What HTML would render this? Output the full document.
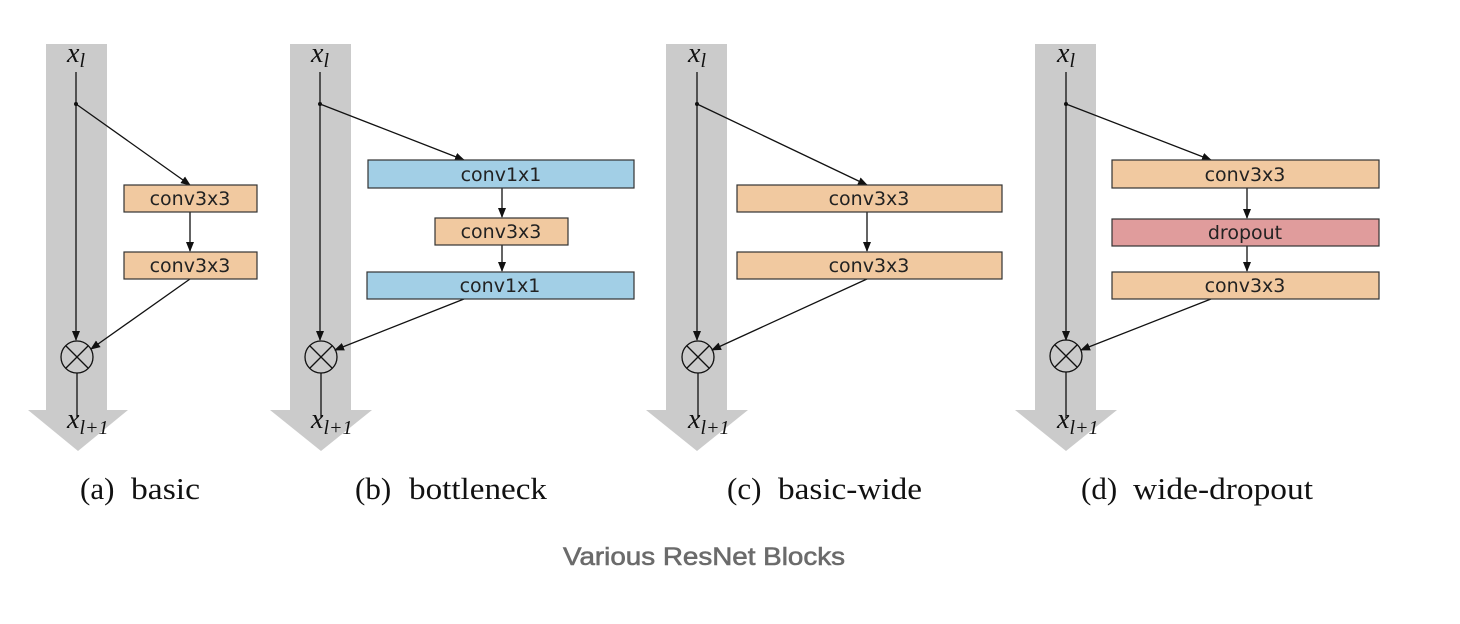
<!DOCTYPE html>
<html><head><meta charset="utf-8"><style>
html,body{margin:0;padding:0;background:#fff;}
svg{display:block;}
.bx{font-family:"DejaVu Sans","Liberation Sans",sans-serif;font-size:19px;fill:#222;text-anchor:middle;}
.m{font-family:"Liberation Serif",serif;font-style:italic;fill:#111;}
.cap{font-family:"Liberation Serif",serif;font-size:31px;fill:#111;}
</style></head><body>
<svg width="1460" height="624" viewBox="0 0 1460 624" xmlns="http://www.w3.org/2000/svg">
<defs>
<marker id="ah" markerWidth="10" markerHeight="8" refX="9" refY="4" orient="auto" markerUnits="userSpaceOnUse">
<path d="M0,0 L10,4 L0,8 z" fill="#111"/></marker>
</defs>
<rect x="46" y="44" width="61" height="366" fill="#cbcbcb"/>
<polygon points="28,410 128,410 78,451" fill="#cbcbcb"/>
<rect x="290" y="44" width="61" height="366" fill="#cbcbcb"/>
<polygon points="270,410 372,410 321,451" fill="#cbcbcb"/>
<rect x="666" y="44" width="61" height="366" fill="#cbcbcb"/>
<polygon points="646,410 748,410 697,451" fill="#cbcbcb"/>
<rect x="1035" y="44" width="61" height="366" fill="#cbcbcb"/>
<polygon points="1015,410 1117,410 1066,451" fill="#cbcbcb"/>

<g stroke="#111" stroke-width="1.3" fill="none">
<line x1="76" y1="72" x2="76" y2="340" marker-end="url(#ah)"/>
<line x1="76" y1="104" x2="190" y2="185" marker-end="url(#ah)"/>
<line x1="190" y1="212" x2="190" y2="251" marker-end="url(#ah)"/>
<line x1="190" y1="279" x2="91" y2="349" marker-end="url(#ah)"/>
<circle cx="77" cy="357" r="16"/>
<line x1="66" y1="346" x2="88" y2="368"/><line x1="88" y1="346" x2="66" y2="368"/>
<line x1="77" y1="373" x2="77" y2="418"/>
<line x1="320" y1="72" x2="320" y2="340" marker-end="url(#ah)"/>
<line x1="320" y1="104" x2="464" y2="160" marker-end="url(#ah)"/>
<line x1="502" y1="188" x2="502" y2="217" marker-end="url(#ah)"/>
<line x1="502" y1="245" x2="502" y2="271" marker-end="url(#ah)"/>
<line x1="464" y1="299" x2="335" y2="350" marker-end="url(#ah)"/>
<circle cx="321" cy="357" r="16"/>
<line x1="310" y1="346" x2="332" y2="368"/><line x1="332" y1="346" x2="310" y2="368"/>
<line x1="321" y1="373" x2="321" y2="418"/>
<line x1="697" y1="72" x2="697" y2="340" marker-end="url(#ah)"/>
<line x1="697" y1="104" x2="867" y2="185" marker-end="url(#ah)"/>
<line x1="867" y1="212" x2="867" y2="251" marker-end="url(#ah)"/>
<line x1="867" y1="279" x2="712" y2="350" marker-end="url(#ah)"/>
<circle cx="698" cy="357" r="16"/>
<line x1="687" y1="346" x2="709" y2="368"/><line x1="709" y1="346" x2="687" y2="368"/>
<line x1="698" y1="373" x2="698" y2="418"/>
<line x1="1066" y1="72" x2="1066" y2="340" marker-end="url(#ah)"/>
<line x1="1066" y1="104" x2="1211" y2="160" marker-end="url(#ah)"/>
<line x1="1247" y1="188" x2="1247" y2="218" marker-end="url(#ah)"/>
<line x1="1247" y1="246" x2="1247" y2="271" marker-end="url(#ah)"/>
<line x1="1211" y1="299" x2="1081" y2="350" marker-end="url(#ah)"/>
<circle cx="1066" cy="356" r="16"/>
<line x1="1055" y1="345" x2="1077" y2="367"/><line x1="1077" y1="345" x2="1055" y2="367"/>
<line x1="1066" y1="372" x2="1066" y2="418"/>
</g>
<g fill="#111">
<circle cx="76" cy="104" r="2"/><circle cx="320" cy="104" r="2"/><circle cx="697" cy="104" r="2"/><circle cx="1066" cy="104" r="2"/>
</g>

<g stroke="#333" stroke-width="1.2">
<rect x="124" y="185" width="133" height="27" fill="#f1c9a0"/>
<rect x="124" y="252" width="133" height="27" fill="#f1c9a0"/>
<rect x="368" y="160" width="266" height="28" fill="#a2cfe6"/>
<rect x="435" y="218" width="133" height="27" fill="#f1c9a0"/>
<rect x="367" y="272" width="267" height="27" fill="#a2cfe6"/>
<rect x="737" y="185" width="265" height="27" fill="#f1c9a0"/>
<rect x="737" y="252" width="265" height="27" fill="#f1c9a0"/>
<rect x="1112" y="160" width="267" height="28" fill="#f1c9a0"/>
<rect x="1112" y="219" width="267" height="27" fill="#e09c9c"/>
<rect x="1112" y="272" width="267" height="27" fill="#f1c9a0"/>
</g>
<g class="bx">
<text x="190" y="205">conv3x3</text>
<text x="190" y="272">conv3x3</text>
<text x="501" y="181">conv1x1</text>
<text x="501" y="238">conv3x3</text>
<text x="500" y="292">conv1x1</text>
<text x="869" y="205">conv3x3</text>
<text x="869" y="272">conv3x3</text>
<text x="1245" y="181">conv3x3</text>
<text x="1245" y="239">dropout</text>
<text x="1245" y="292">conv3x3</text>
</g>

<g class="m">
<text x="67" y="62" font-size="28">x<tspan font-size="20" dy="5">l</tspan></text>
<text x="311" y="62" font-size="28">x<tspan font-size="20" dy="5">l</tspan></text>
<text x="688" y="62" font-size="28">x<tspan font-size="20" dy="5">l</tspan></text>
<text x="1057" y="62" font-size="28">x<tspan font-size="20" dy="5">l</tspan></text>
<text x="67" y="428" font-size="28">x<tspan font-size="20" dy="6">l+1</tspan></text>
<text x="311" y="428" font-size="28">x<tspan font-size="20" dy="6">l+1</tspan></text>
<text x="688" y="428" font-size="28">x<tspan font-size="20" dy="6">l+1</tspan></text>
<text x="1057" y="428" font-size="28">x<tspan font-size="20" dy="6">l+1</tspan></text>
</g>

<g class="cap">
<text x="80" y="499">(a)</text><text x="131" y="499" textLength="69" lengthAdjust="spacingAndGlyphs">basic</text>
<text x="355" y="499">(b)</text><text x="409" y="499" textLength="138" lengthAdjust="spacingAndGlyphs">bottleneck</text>
<text x="727" y="499">(c)</text><text x="778" y="499" textLength="144" lengthAdjust="spacingAndGlyphs">basic-wide</text>
<text x="1081" y="499">(d)</text><text x="1133" y="499" textLength="180" lengthAdjust="spacingAndGlyphs">wide-dropout</text>
</g>
<text x="563" y="565" font-family="Liberation Sans, sans-serif" font-size="25" fill="#6b6b6b" stroke="#6b6b6b" stroke-width="0.6" textLength="282" lengthAdjust="spacingAndGlyphs">Various ResNet Blocks</text>
</svg>
</body></html>
